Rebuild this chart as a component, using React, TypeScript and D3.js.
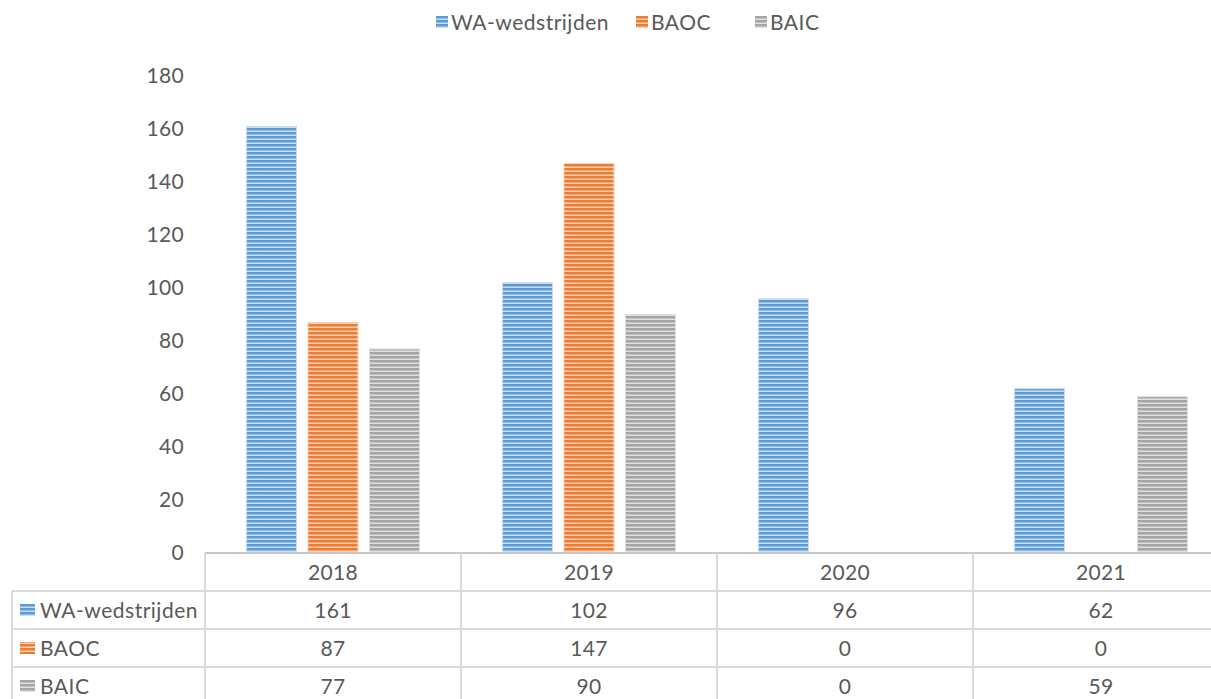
import * as d3 from 'd3';
import React from 'react';

const years = ['2018', '2019', '2020', '2021'];
const seriesNames = ['WA-wedstrijden', 'BAOC', 'BAIC'];
const waValues = [161, 102, 96, 62];
const baocValues = [87, 147, 0, 0];
const baicValues = [77, 90, 0, 59];
const yTicks = [0, 20, 40, 60, 80, 100, 120, 140, 160, 180];

const seriesValues = [waValues, baocValues, baicValues];
const colors = ['#5B9BD5', '#ED7D31', '#A5A5A5'];
const lightColors = ['#C9DDF1', '#F8CFB3', '#E0E0E0'];

const W = 1211;
const H = 699;
const plotLeft = 205;
const plotRight = 1229;
const plotTop = 76;
const plotBottom = 553;
const rowH = 38;
const font = "Lato, 'Open Sans', sans-serif";
const fontSize = 21;
const textColor = '#595959';
const gridColor = '#D9D9D9';

const App = () => {
  const x = d3.scaleBand().domain(years).range([plotLeft, plotRight]);
  const xInner = d3
    .scaleBand()
    .domain(seriesNames)
    .range([0, x.bandwidth()])
    .paddingInner(0.187)
    .paddingOuter(0.675);
  const y = d3.scaleLinear().domain([0, 180]).range([plotBottom, plotTop]);

  const tableTop = plotBottom;
  const headerBottom = tableTop + rowH;

  // legend item x positions
  const legendX = [436, 636, 755];

  const txt = {
    fontFamily: font,
    fontSize,
    fill: textColor,
    letterSpacing: 0.5,
  };

  return (
    <svg width={W} height={H} style={{ position: 'absolute', left: 0, top: 0 }}>
      <defs>
        {colors.map((c, i) => (
          <pattern
            key={c}
            id={`stripe${i}`}
            width={8}
            height={4}
            patternUnits="userSpaceOnUse"
          >
            <rect width={8} height={4} fill={lightColors[i]} />
            <rect width={8} height={2.5} fill={c} />
          </pattern>
        ))}
      </defs>
      <rect width={W} height={H} fill="#fff" />

      {/* legend */}
      {seriesNames.map((s, i) => (
        <g key={s} transform={`translate(${legendX[i]},0)`}>
          <rect x={0} y={16} width={12} height={12} fill={`url(#stripe${i})`} />
          <text x={15} y={30} {...txt}>
            {s}
          </text>
        </g>
      ))}

      {/* y axis labels */}
      {yTicks.map((t) => (
        <text key={t} x={184} y={y(t) + 7} textAnchor="end" {...txt} letterSpacing={0.3}>
          {t}
        </text>
      ))}

      {/* bars */}
      {years.map((yr, yi) => (
        <g key={yr} transform={`translate(${x(yr)},0)`}>
          {seriesNames.map((s, si) => {
            const v = seriesValues[si][yi];
            if (!v) return null;
            return (
              <rect
                key={s}
                x={xInner(s)}
                y={y(v)}
                width={xInner.bandwidth()}
                height={plotBottom - y(v)}
                fill={`url(#stripe${si})`}
                stroke={lightColors[si]}
                strokeWidth={1}
              />
            );
          })}
        </g>
      ))}

      {/* data table */}
      <g fill="none" stroke={gridColor} strokeWidth={2}>
        <line x1={plotLeft} x2={W} y1={tableTop} y2={tableTop} stroke="#C8C8C8" />
        {[1, 2, 3].map((r) => (
          <line
            key={r}
            x1={12}
            x2={W}
            y1={headerBottom + (r - 1) * rowH}
            y2={headerBottom + (r - 1) * rowH}
          />
        ))}
        <line x1={12} x2={12} y1={headerBottom} y2={H} />
        {years.map((yr) => (
          <line key={yr} x1={x(yr)} x2={x(yr)} y1={tableTop} y2={H} />
        ))}
      </g>
      {years.map((yr) => (
        <text
          key={yr}
          x={(x(yr) as number) + x.bandwidth() / 2}
          y={tableTop + rowH / 2 + 8}
          textAnchor="middle"
          {...txt}
          letterSpacing={0.3}
        >
          {yr}
        </text>
      ))}
      {seriesNames.map((s, si) => {
        const cy = headerBottom + si * rowH + rowH / 2;
        return (
          <g key={s}>
            <rect x={20} y={cy - 6} width={15} height={12} fill={`url(#stripe${si})`} />
            <text x={40} y={cy + 8} {...txt}>
              {s}
            </text>
            {years.map((yr, yi) => (
              <text
                key={yr}
                x={(x(yr) as number) + x.bandwidth() / 2}
                y={cy + 8}
                textAnchor="middle"
                {...txt}
                letterSpacing={0.3}
              >
                {seriesValues[si][yi]}
              </text>
            ))}
          </g>
        );
      })}
    </svg>
  );
};

export default App;
